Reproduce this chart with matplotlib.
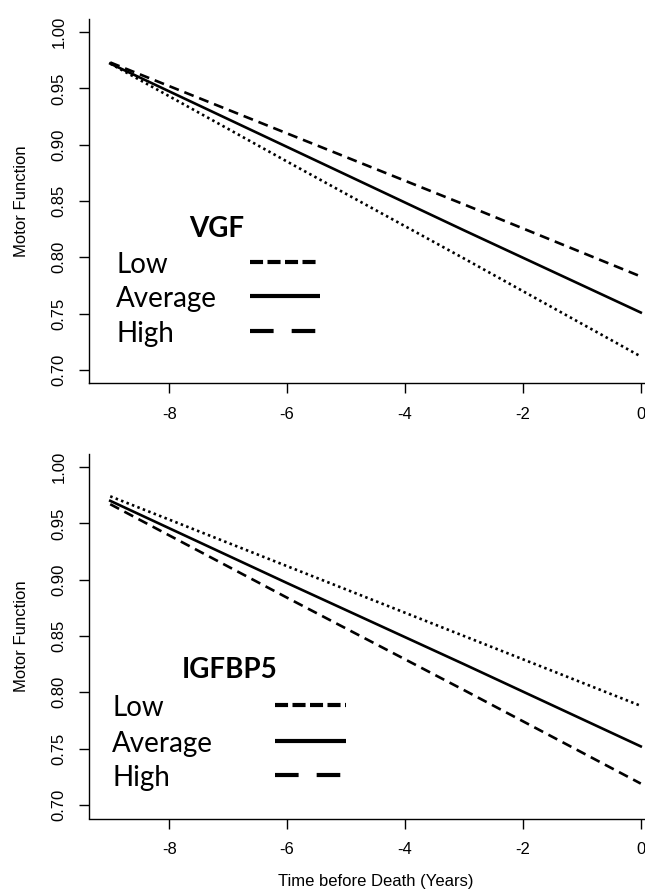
import matplotlib
matplotlib.use('Agg')
import matplotlib.pyplot as plt

plt.rcParams['font.family'] = ['Liberation Sans', 'DejaVu Sans']
plt.rcParams['lines.scale_dashes'] = False

# time points (years before death) and predicted motor function
years = [-9, -6, -3, 0]

vgf_low = [0.973, 0.910, 0.847, 0.783]
vgf_avg = [0.972, 0.898, 0.824, 0.751]
vgf_high = [0.972, 0.885, 0.799, 0.712]

igf_low = [0.967, 0.884, 0.802, 0.719]
igf_avg = [0.970, 0.897, 0.825, 0.752]
igf_high = [0.974, 0.912, 0.850, 0.788]

x_ticks = [-8, -6, -4, -2, 0]
y_ticks = [0.70, 0.75, 0.80, 0.85, 0.90, 0.95, 1.00]
levels = ['Low', 'Average', 'High']

dashed = (0, (7.2, 4.3))
dotted = (0, (1.8, 2.4))
leg_styles = [(0, (9.4, 3.2)), '-', (0, (17, 13))]

W, H = 645, 893
fig = plt.figure(figsize=(W / 100, H / 100), dpi=100)


def make_panel(rect, low, avg, high, low_ls, high_ls, name, leg):
    ax = fig.add_axes(rect)
    ax.plot(years, low, color='black', lw=1.9, linestyle=low_ls)
    ax.plot(years, avg, color='black', lw=1.9, linestyle='-')
    ax.plot(years, high, color='black', lw=1.9, linestyle=high_ls)

    ax.set_xlim(-9.36, 0.36)
    ax.set_ylim(0.688, 1.012)
    ax.set_xticks(x_ticks)
    ax.set_xticklabels([str(t) for t in x_ticks])
    ax.set_yticks(y_ticks)
    ax.set_yticklabels(['%.2f' % t for t in y_ticks], rotation=90, va='center')
    ax.tick_params(length=7, width=1.0, labelsize=12)
    ax.tick_params(axis='x', pad=10)
    ax.tick_params(axis='y', pad=9)
    ax.spines['top'].set_visible(False)
    ax.spines['right'].set_visible(False)
    for s in ['left', 'bottom']:
        ax.spines[s].set_linewidth(1.0)
    ax.set_ylabel('Motor Function', fontsize=12)
    ax.yaxis.set_label_coords(-(89 - 29) / 573, 0.5)

    # hand-made legend like the original figure
    tx, title_pos, row_ys, lx0, lx1 = leg
    ax.text(title_pos[0], title_pos[1], name, transform=ax.transAxes, fontsize=20,
            fontweight='bold', family=['Lato', 'DejaVu Sans'], ha='center', va='center')
    for lab, ls, ry in zip(levels, leg_styles, row_ys):
        ax.text(tx, ry, lab, transform=ax.transAxes, fontsize=20,
                family=['Lato', 'DejaVu Sans'], ha='left', va='center')
        ax.plot([lx0, lx1], [ry + 0.008, ry + 0.008], transform=ax.transAxes,
                color='black', lw=3, linestyle=ls, solid_capstyle='butt',
                dash_capstyle='butt', clip_on=False)
    return ax


def fx(px):
    return (px - 89) / 573


def fy(py, top):
    return 1 - (py - top) / 365


ax1 = make_panel([89 / W, 1 - 383.5 / H, 573 / W, 365 / H],
                 vgf_low, vgf_avg, vgf_high, dashed, dotted, 'VGF',
                 (fx(116), (fx(217), fy(229, 18.5)),
                  [fy(265, 18.5), fy(299, 18.5), fy(334, 18.5)],
                  fx(250), fx(320)))

ax2 = make_panel([89 / W, 1 - 818.5 / H, 573 / W, 365 / H],
                 igf_low, igf_avg, igf_high, dashed, dotted, 'IGFBP5',
                 (fx(112), (fx(230), fy(670, 453.5)),
                  [fy(708, 453.5), fy(744, 453.5), fy(778, 453.5)],
                  fx(275), fx(346)))
ax2.set_xlabel('Time before Death (Years)', fontsize=12)
ax2.xaxis.set_label_coords(0.5, -(874 - 818.5) / 365)

fig.savefig('out.png', dpi=100)
